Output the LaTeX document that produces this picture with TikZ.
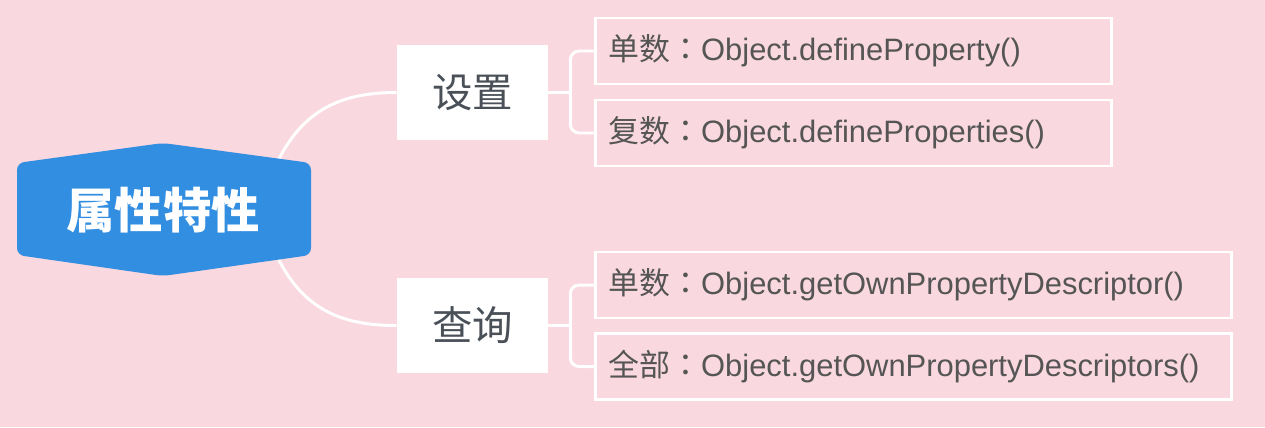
\documentclass[tikz,border=0pt]{standalone}
\usepackage{fontspec}
\setmainfont{Liberation Sans}
\newfontfamily\cjk{Noto Sans CJK SC}
\newfontfamily\cjktc{Noto Sans CJK TC}
\usepackage{tikz}
\usetikzlibrary{positioning, calc}
\definecolor{bgpink}{RGB}{249, 216, 223}
\definecolor{rootblue}{RGB}{50, 142, 225}
\definecolor{darktext}{RGB}{74, 80, 88}
\definecolor{leaftext}{RGB}{85, 85, 85}

\begin{document}
\begin{tikzpicture}[
    x=0.02cm, y=-0.02cm,
    topic/.style={rectangle, fill=white, minimum width=3.02cm, minimum height=1.9cm,
                  inner sep=0pt, font=\cjk\fontsize{23}{27}\selectfont, text=darktext},
    leaf/.style={rectangle, draw=white, line width=1.6pt, anchor=west, minimum height=1.32cm,
                 inner xsep=0.26cm, inner ysep=0pt, align=left,
                 font=\fontsize{17.6}{21}\selectfont, text=leaftext},
    link/.style={draw=white, line width=1.7pt},
    bracket/.style={link, rounded corners=5pt}
]

% Background
\fill[bgpink] (0,0) rectangle (1265,427);

% Topics
\node[topic] (set) at (472.5,92.5) {设置};
\node[topic] (query) at (472.5,325.5) {查询};

% Leaves
\node[leaf, text width=9.8cm] (setone) at (594,51) {{\cjk 单数}{\cjktc ：}Object.defineProperty()};
\node[leaf, text width=9.8cm] (setmany) at (594,133) {{\cjk 复数}{\cjktc ：}Object.defineProperties()};
\node[leaf, text width=12.2cm] (getone) at (594,285) {{\cjk 单数}{\cjktc ：}Object.getOwnPropertyDescriptor()};
\node[leaf, text width=12.2cm] (getall) at (594,366.5) {{\cjk 全部}{\cjktc ：}Object.getOwnPropertyDescriptors()};

% Root to topics
\coordinate (rootup) at (276,165);
\coordinate (rootdown) at (276,254);
\draw[link] (rootup) .. controls (303,107) and (345,92.5) .. (set.west);
\draw[link] (rootdown) .. controls (303,312) and (345,325.5) .. (query.west);

% Root
\fill[rootblue, rounded corners=4pt] (17,163) -- (163,143) -- (311,163) -- (311,255)
    -- (163,276) -- (17,255) -- cycle;
\node[font=\cjk\bfseries\fontsize{27.5}{32}\selectfont, text=white] (root) at (163,210) {属性特性};

% Brackets
\draw[link] (set.east) -- ++(22,0) coordinate (setfork);
\draw[bracket] (setone.west) -| (setfork) |- (setmany.west);
\draw[link] (query.east) -- ++(22,0) coordinate (queryfork);
\draw[bracket] (getone.west) -| (queryfork) |- (getall.west);

\end{tikzpicture}
\end{document}
